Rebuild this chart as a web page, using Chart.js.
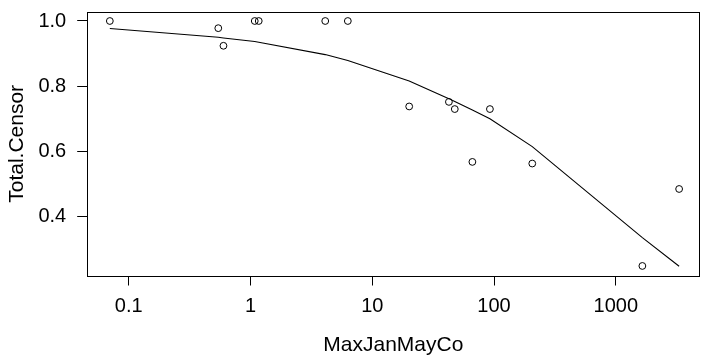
<!DOCTYPE html>
<html>
<head>
<meta charset="utf-8">
<title>Total.Censor vs MaxJanMayCo</title>
<script src="https://cdn.jsdelivr.net/npm/chart.js@4/dist/chart.umd.min.js"></script>
<style>
  html, body { margin: 0; padding: 0; background: #fff; }
  #wrap { width: 705px; height: 361px; }
</style>
</head>
<body>
<div id="wrap"><canvas id="plot" width="705" height="361"></canvas></div>
<script>
// ===== Data =====
const maxJanMayCo = [0.070, 0.544, 0.60, 1.084, 1.169, 4.11, 6.3, 20.1, 42.6, 47.6, 66.4, 92.5, 206, 1652, 3310];
const totalCensor = [1.0, 0.978, 0.924, 1.0, 1.0, 1.0, 1.0, 0.738, 0.752, 0.730, 0.568, 0.730, 0.563, 0.249, 0.485];
const fittedCensor = [0.977, 0.950, 0.948, 0.937, 0.935, 0.897, 0.879, 0.816, 0.762, 0.753, 0.727, 0.700, 0.615, 0.336, 0.248];

const xTicks = [0.1, 1, 10, 100, 1000];
const yTicks = [0.4, 0.6, 0.8, 1.0];

const xTitle = 'MaxJanMayCo';
const yTitle = 'Total.Censor';

// ===== Styles =====
const ink = '#000000';
const family = '"Liberation Sans", Arial, Helvetica, sans-serif';
const tickFont = { family: family, size: 20 };
const titleFont = { family: family, size: 21 };

// box round the plot region, like R's box()
const boxPlugin = {
    id: 'box',
    afterDraw(chart) {
        const { ctx, chartArea: a } = chart;
        ctx.save();
        ctx.strokeStyle = ink;
        ctx.lineWidth = 1;
        ctx.strokeRect(Math.round(a.left) + 0.5, Math.round(a.top) + 0.5,
            Math.round(a.right - a.left) - 1, Math.round(a.bottom - a.top));
        ctx.restore();
    }
};

// keep Chart.js from reserving extra room for the end labels
function noPadding(s) {
    s.paddingTop = 0;
    s.paddingBottom = 0;
    s.paddingLeft = 0;
    s.paddingRight = 0;
}

const points = maxJanMayCo.map((x, i) => ({ x: x, y: totalCensor[i] }));
const fitLine = maxJanMayCo.map((x, i) => ({ x: x, y: fittedCensor[i] }));

new Chart(document.getElementById('plot'), {
    type: 'scatter',
    data: {
        datasets: [
            {
                label: 'observed',
                data: points,
                pointStyle: 'circle',
                pointRadius: 3.4,
                pointBorderWidth: 1,
                pointBorderColor: ink,
                pointBackgroundColor: 'rgba(0,0,0,0)',
                showLine: false
            },
            {
                label: 'fit',
                data: fitLine,
                showLine: true,
                borderColor: ink,
                borderWidth: 1.1,
                tension: 0,
                pointRadius: 0,
                fill: false
            }
        ]
    },
    options: {
        responsive: false,
        animation: false,
        devicePixelRatio: 1,
        layout: { padding: { top: 11.7, right: 1, left: 0, bottom: 0 } },
        plugins: {
            legend: { display: false },
            tooltip: { enabled: false }
        },
        scales: {
            x: {
                type: 'logarithmic',
                min: 0.0452,
                max: 4912,
                afterBuildTicks: (s) => { s.ticks = xTicks.map(v => ({ value: v })); },
                afterFit: (s) => { s.height = 85; noPadding(s); },
                border: { display: false },
                grid: { drawOnChartArea: false, drawTicks: true, tickLength: 9.5, color: ink, lineWidth: 1 },
                ticks: {
                    color: ink,
                    font: tickFont,
                    padding: 9,
                    maxRotation: 0,
                    autoSkip: false,
                    callback: (v) => String(v)
                },
                title: {
                    display: true,
                    text: xTitle,
                    color: ink,
                    font: titleFont,
                    padding: { top: 0, bottom: 3 }
                }
            },
            y: {
                type: 'linear',
                min: 0.2182,
                max: 1.0285,
                afterBuildTicks: (s) => { s.ticks = yTicks.map(v => ({ value: v })); },
                afterFit: (s) => { s.width = 86.7; noPadding(s); },
                border: { display: false },
                grid: { drawOnChartArea: false, drawTicks: true, tickLength: 9.5, color: ink, lineWidth: 1 },
                ticks: {
                    color: ink,
                    font: tickFont,
                    padding: 11,
                    autoSkip: false,
                    callback: (v) => v.toFixed(1)
                },
                title: {
                    display: true,
                    text: yTitle,
                    color: ink,
                    font: titleFont,
                    padding: { top: 5, bottom: 0 }
                }
            }
        }
    },
    plugins: [boxPlugin]
});
</script>
</body>
</html>
